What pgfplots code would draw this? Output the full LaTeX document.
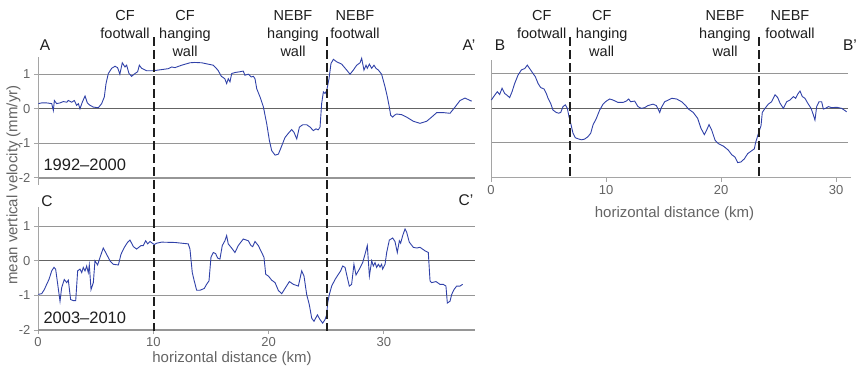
\documentclass[border=0pt]{standalone}
\usepackage{pgfplots}
\pgfplotsset{compat=1.18}
\usepackage{fontspec}
\setmainfont{Liberation Sans}
\definecolor{curve}{RGB}{48,65,168}
\definecolor{gridc}{RGB}{150,150,150}
\definecolor{zeroc}{RGB}{100,100,100}
\definecolor{axisc}{RGB}{165,165,165}
\definecolor{tickc}{RGB}{100,100,100}
\definecolor{dashc}{RGB}{30,30,30}
\pgfplotsset{
 panel/.style={scale only axis, axis line style={draw=none},
  ymajorgrids, grid style={draw=gridc, line width=1.1pt},
  tick align=outside, major tick length=4pt,
  tick style={draw=axisc, line width=1pt},
  ytick={-2,-1,0,1}, yticklabels={-2,-1,0,1},
  ytick pos=left, xtick pos=bottom,
  tick label style={font=\fontsize{13}{14}\selectfont, text=tickc},
  clip=false},
 vel/.style={curve, line width=0.9pt, mark=none},
}
\begin{document}
\begin{tikzpicture}[x=1pt,y=1pt]
\path[use as bounding box] (0,0) rectangle (858,368);
% ---------------- A - A'
\begin{axis}[panel, at={(38pt,183.1pt)}, anchor=south west,
  width=437pt, height=128pt, xmin=0, xmax=37.9, ymin=-2.2, ymax=1.5,
  xtick=\empty]
\draw[zeroc, line width=1.1pt] (axis cs:0,0) -- (axis cs:37.9,0);
\draw[axisc, line width=1pt] (rel axis cs:0,0) -- (rel axis cs:0,1);
\addplot[vel] coordinates {(0.03,0.15)(0.32,0.17)(0.75,0.17)(1.19,0.15)(1.33,-0.05)(1.42,0.24)(1.62,0.15)(1.91,0.17)(2.2,0.21)(2.49,0.19)(2.63,0.24)(2.92,0.19)(3.15,0.24)(3.35,0.10)(3.5,0.15)(3.64,0.0)(3.84,0.19)(4.08,0.37)(4.28,0.17)(4.51,0.10)(4.8,0.05)(5.23,0.03)(5.52,0.15)(5.75,0.34)(5.9,0.73)(6.1,1.02)(6.39,1.17)(6.68,1.23)(6.9,1.19)(7.1,1.0)(7.31,1.33)(7.54,1.21)(7.69,1.26)(7.89,1.02)(8.12,0.94)(8.41,1.02)(8.64,1.07)(8.79,1.26)(8.99,1.17)(9.42,1.10)(10.0,1.10)(10.43,1.12)(10.87,1.14)(11.3,1.16)(11.59,1.21)(11.88,1.19)(12.46,1.26)(13.18,1.33)(13.6,1.34)(14.2,1.33)(14.77,1.29)(15.2,1.26)(15.6,1.12)(15.9,0.94)(16.2,0.87)(16.36,0.73)(16.5,0.87)(16.65,0.78)(16.8,1.02)(17.1,1.05)(17.5,1.07)(17.8,1.09)(17.95,0.97)(18.24,1.00)(18.5,0.92)(18.68,0.94)(18.82,0.87)(18.97,0.58)(19.26,0.34)(19.55,0.05)(19.84,-0.44)(20.07,-0.92)(20.27,-1.21)(20.56,-1.34)(20.85,-1.31)(21.14,-1.07)(21.42,-0.83)(21.71,-0.71)(22.0,-0.60)(22.2,-0.68)(22.44,-0.87)(22.67,-0.53)(22.96,-0.46)(23.3,-0.46)(23.6,-0.53)(23.88,-0.63)(24.11,-0.58)(24.3,-0.61)(24.46,-0.53)(24.6,0.15)(24.75,0.49)(24.89,0.44)(25.04,0.53)(25.24,0.87)(25.41,1.31)(25.62,1.43)(25.9,1.36)(26.34,1.29)(26.77,1.12)(27.06,1.0)(27.35,1.12)(27.64,1.26)(27.93,1.33)(28.07,1.46)(28.27,1.12)(28.45,1.26)(28.56,1.17)(28.74,1.29)(28.94,1.17)(29.14,1.26)(29.31,1.17)(29.52,1.12)(29.8,1.0)(30.1,0.63)(30.3,0.34)(30.47,0.05)(30.59,-0.19)(30.76,-0.24)(30.9,-0.19)(31.1,-0.15)(31.54,-0.17)(31.97,-0.24)(32.55,-0.36)(33.13,-0.42)(33.71,-0.36)(34.14,-0.24)(34.58,-0.11)(35.15,-0.11)(35.73,-0.13)(36.17,0.05)(36.6,0.24)(37.03,0.31)(37.61,0.22)};
\end{axis}
% ---------------- C - C'
\begin{axis}[panel, at={(38pt,38pt)}, anchor=south west,
  width=437pt, height=122.8pt, xmin=0, xmax=37.9, ymin=-2, ymax=1.55,
  xtick={0,10,20,30}, xticklabels={0,10,20,30}]
\draw[zeroc, line width=1.1pt] (axis cs:0,0) -- (axis cs:37.9,0);
\draw[axisc, line width=1pt] (rel axis cs:0,0) -- (rel axis cs:0,1);
\draw[gridc, line width=1.1pt] (rel axis cs:0,0) -- (rel axis cs:1,0);
\addplot[vel] coordinates {(0.03,-0.97)(0.32,-0.95)(0.55,-0.83)(0.75,-0.68)(0.95,-0.54)(1.19,-0.29)(1.39,-0.19)(1.53,-0.24)(1.71,-0.68)(1.91,-1.17)(2.05,-0.78)(2.28,-0.54)(2.49,-0.63)(2.63,-0.56)(2.83,-1.12)(3.06,-1.15)(3.27,-1.15)(3.44,-0.29)(3.64,-0.24)(3.79,-0.34)(3.93,-0.19)(4.08,-0.29)(4.22,-0.15)(4.36,-0.34)(4.45,-0.12)(4.6,-0.83)(4.8,-0.63)(4.94,0.0)(5.17,-0.12)(5.38,0.10)(5.66,0.37)(5.95,0.19)(6.24,0.0)(6.53,-0.10)(6.97,-0.12)(7.2,0.19)(7.49,0.39)(7.78,0.54)(7.98,0.60)(8.27,0.41)(8.55,0.34)(8.93,0.44)(9.13,0.44)(9.34,0.58)(9.51,0.49)(9.71,0.56)(9.91,0.51)(10.09,0.47)(10.29,0.51)(10.72,0.54)(11.88,0.53)(13.03,0.49)(13.18,0.34)(13.38,-0.34)(13.55,-0.58)(13.76,-0.85)(14.05,-0.85)(14.42,-0.80)(14.62,-0.68)(14.83,-0.58)(15.0,0.10)(15.2,0.24)(15.4,0.21)(15.58,0.08)(15.78,0.05)(15.98,0.44)(16.21,0.58)(16.36,0.73)(16.5,0.49)(16.79,0.37)(17.08,0.24)(17.37,0.44)(17.8,0.63)(18.24,0.58)(18.47,0.44)(18.62,0.41)(18.82,0.56)(19.11,0.44)(19.4,0.24)(19.6,0.10)(19.75,-0.39)(19.98,-0.44)(20.27,-0.56)(20.56,-0.63)(20.85,-0.86)(21.14,-0.95)(21.42,-0.80)(21.8,-0.60)(22.15,-0.68)(22.58,-0.73)(22.87,-0.29)(23.07,-0.44)(23.3,-0.97)(23.53,-1.27)(23.74,-1.66)(23.94,-1.75)(24.23,-1.56)(24.46,-1.70)(24.69,-1.80)(24.89,-1.70)(25.04,-1.56)(25.12,-1.22)(25.27,-0.97)(25.47,-0.73)(25.76,-0.54)(26.05,-0.39)(26.25,-0.29)(26.42,-0.15)(26.63,-0.19)(26.83,-0.49)(27.0,-0.73)(27.2,-0.68)(27.4,-0.10)(27.58,-0.41)(27.87,-0.24)(28.16,-0.05)(28.36,0.19)(28.56,0.44)(28.74,-0.44)(28.94,0.0)(29.08,-0.15)(29.23,-0.05)(29.37,-0.19)(29.52,-0.10)(29.66,-0.18)(29.8,-0.10)(29.89,-0.24)(30.1,-0.10)(30.24,0.24)(30.47,0.60)(30.76,0.66)(30.96,0.56)(31.16,0.24)(31.34,0.58)(31.45,0.51)(31.63,0.73)(31.83,0.92)(31.97,0.83)(32.2,0.54)(32.55,0.39)(32.84,0.37)(33.13,0.39)(33.56,0.29)(33.85,0.24)(34.0,-0.58)(34.14,-0.63)(34.52,-0.60)(34.86,-0.68)(35.15,-0.68)(35.38,-0.73)(35.5,-1.22)(35.73,-1.17)(35.88,-0.97)(36.08,-0.83)(36.31,-0.73)(36.6,-0.73)(36.83,-0.68)};
\end{axis}
% ---------------- B - B'
\begin{axis}[panel, at={(491pt,190.5pt)}, anchor=south west,
  width=356.5pt, height=117.6pt, xmin=0, xmax=31.0, ymin=-2, ymax=1.4,
  xtick={0,10,20,30}, xticklabels={0,10,20,30},
  yticklabels={}, ytick style={draw=none}]
\draw[zeroc, line width=1.1pt] (axis cs:0,0) -- (axis cs:31,0);
\draw[axisc, line width=1pt] (rel axis cs:0,0) -- (rel axis cs:0,1);
\draw[axisc, line width=1pt] (rel axis cs:0,0) -- ([xshift=3.5pt]rel axis cs:1,0);
\addplot[vel] coordinates {(0.03,0.24)(0.32,0.38)(0.55,0.48)(0.75,0.40)(0.96,0.58)(1.19,0.43)(1.42,0.37)(1.62,0.31)(1.83,0.48)(2.06,0.72)(2.35,0.96)(2.64,1.11)(2.93,1.15)(3.16,1.25)(3.36,1.15)(3.65,1.01)(3.86,0.91)(4.09,0.72)(4.32,0.60)(4.61,0.56)(4.81,0.43)(4.96,0.29)(5.19,0.14)(5.39,-0.05)(5.68,-0.12)(5.88,-0.14)(6.06,-0.12)(6.26,0.05)(6.46,0.10)(6.64,0.0)(6.78,-0.24)(6.93,-0.43)(7.13,-0.72)(7.33,-0.85)(7.57,-0.88)(7.86,-0.91)(8.14,-0.89)(8.43,-0.82)(8.67,-0.72)(8.87,-0.48)(9.16,-0.29)(9.45,-0.05)(9.74,0.12)(10.03,0.21)(10.32,0.27)(10.61,0.24)(11.04,0.17)(11.48,0.17)(11.77,0.21)(11.97,0.27)(12.14,0.19)(12.49,0.21)(12.78,0.05)(13.07,0.0)(13.36,0.02)(13.65,0.08)(14.09,0.12)(14.38,0.08)(14.67,-0.12)(14.81,0.02)(15.1,0.19)(15.42,0.24)(15.71,0.29)(16.14,0.27)(16.58,0.19)(16.93,0.08)(17.16,-0.02)(17.59,-0.12)(17.97,-0.29)(18.26,-0.58)(18.55,-0.76)(18.75,-0.63)(18.96,-0.47)(19.19,-0.63)(19.48,-0.92)(19.77,-1.02)(20.2,-1.09)(20.64,-1.21)(20.93,-1.34)(21.22,-1.41)(21.45,-1.57)(21.74,-1.55)(22.03,-1.46)(22.32,-1.31)(22.61,-1.24)(22.9,-1.17)(23.01,-0.99)(23.25,-0.73)(23.48,-0.50)(23.59,-0.12)(23.83,0.0)(24.11,0.12)(24.4,0.19)(24.7,0.39)(24.93,0.31)(25.13,0.15)(25.42,0.0)(25.71,0.19)(26.0,0.24)(26.29,0.34)(26.49,0.29)(26.67,0.41)(26.87,0.50)(27.07,0.34)(27.3,0.29)(27.54,0.15)(27.83,0.0)(28.03,-0.19)(28.17,-0.34)(28.32,0.05)(28.52,0.19)(28.75,0.19)(28.9,-0.02)(29.1,0.0)(29.33,0.05)(29.62,0.02)(30.06,0.03)(30.49,0.0)(30.93,-0.10)};
\end{axis}
% dashed fault lines
\draw[dashc, line width=2pt, dash pattern=on 9pt off 4pt] (154,331) -- (154,37);
\draw[dashc, line width=2pt, dash pattern=on 9pt off 4pt] (327,331) -- (327,37);
\draw[dashc, line width=2pt, dash pattern=on 9pt off 4pt] (570,331) -- (570,190.5);
\draw[dashc, line width=2pt, dash pattern=on 9pt off 4pt] (759,331) -- (759,190.5);
% annotations
\begin{scope}[every node/.style={font=\fontsize{14.5}{18}\selectfont, text=dashc, anchor=base, inner sep=0pt}]
\foreach \x/\a/\b/\c in {125/CF/footwall/, 185/CF/hanging/wall, 293/NEBF/hanging/wall, 355/NEBF/footwall/, 541.7/CF/footwall/, 601.7/CF/hanging/wall, 725/NEBF/hanging/wall, 790/NEBF/footwall/}{
  \node at (\x,347.3) {\a};
  \node at (\x,329.3) {\b};
  \node at (\x,311.7) {\c};
}
\end{scope}
\begin{scope}[every node/.style={font=\fontsize{15.5}{18}\selectfont, text=dashc, anchor=base, inner sep=0pt}]
\node at (45,318) {A};
\node at (469,318) {A’};
\node at (500,318) {B};
\node at (850,318) {B’};
\node at (47,161.3) {C};
\node at (466,162.3) {C’};
\end{scope}
\begin{scope}[every node/.style={font=\fontsize{16.5}{18}\selectfont, text=dashc, anchor=base west, inner sep=0pt}]
\node at (43.3,198) {1992–2000};
\node at (43.3,44.7) {2003–2010};
\end{scope}
\begin{scope}[every node/.style={font=\fontsize{15}{18}\selectfont, text=tickc, inner sep=0pt}]
\node[anchor=base] at (232,5.4) {horizontal distance (km)};
\node[anchor=base] at (674.5,151) {horizontal distance (km)};
\node[rotate=90] at (13.5,183) {mean vertical velocity (mm/yr)};
\end{scope}
\end{tikzpicture}
\end{document}
